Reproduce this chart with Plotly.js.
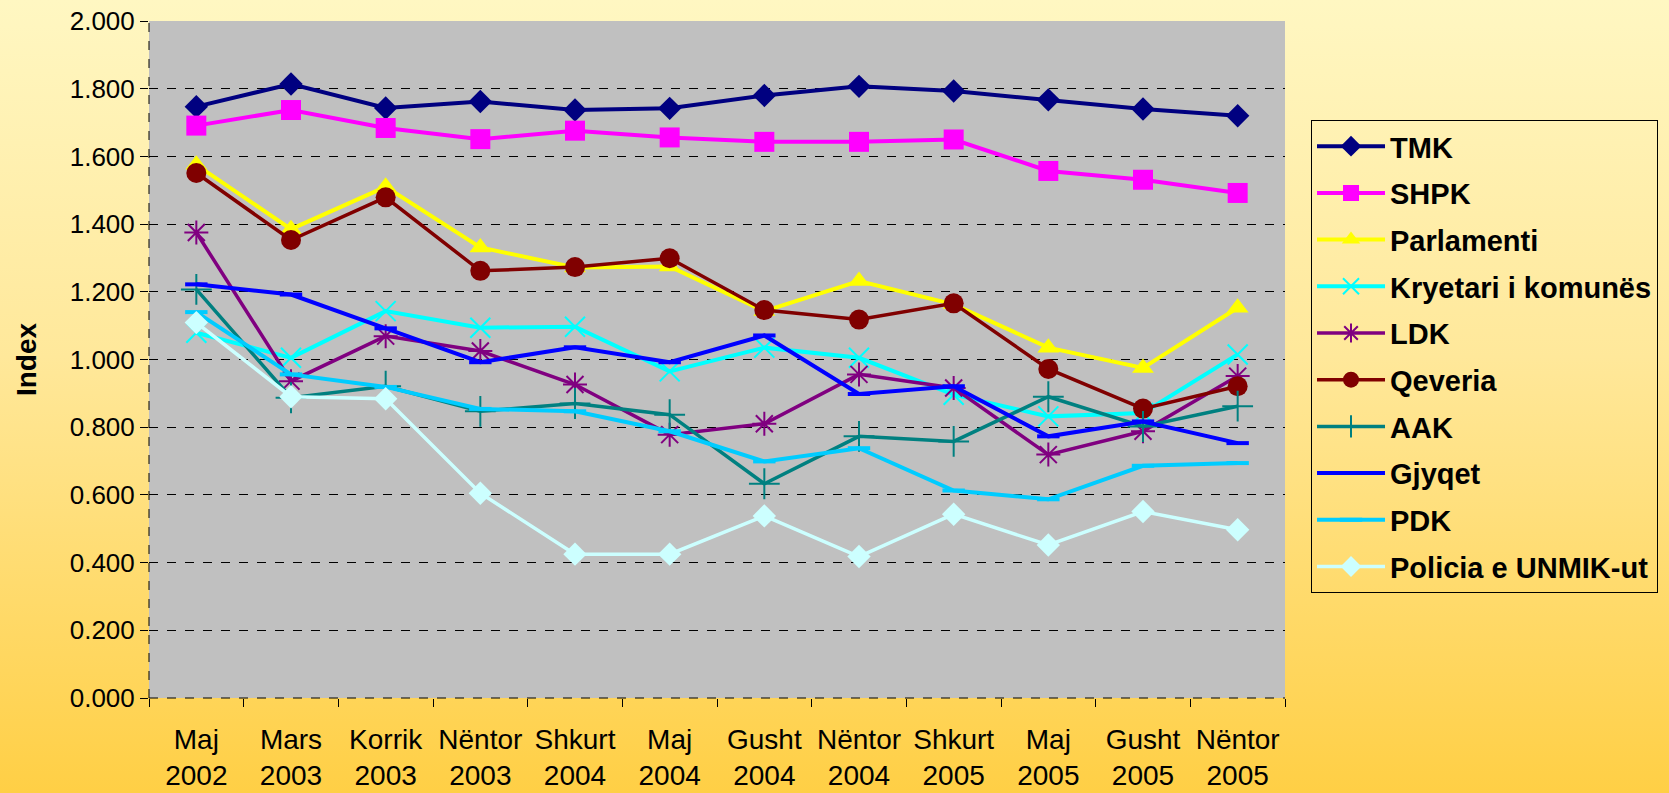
<!DOCTYPE html>
<html>
<head>
<meta charset="utf-8">
<script src="https://cdn.plot.ly/plotly-3.0.1.min.js"></script>
<style>
  html, body { margin: 0; padding: 0; }
  #chart { width: 1669px; height: 793px; background: linear-gradient(to bottom, #FFF7C2 0%, #FFE89A 45%, #FFCF45 100%); }
</style>
</head>
<body>
<div id="chart"></div>
<script>
const categories = ["Maj<br>2002", "Mars<br>2003", "Korrik<br>2003", "Nëntor<br>2003", "Shkurt<br>2004", "Maj<br>2004",
                    "Gusht<br>2004", "Nëntor<br>2004", "Shkurt<br>2005", "Maj<br>2005", "Gusht<br>2005", "Nëntor<br>2005"];

const TMK        = [1.747, 1.814, 1.743, 1.762, 1.737, 1.742, 1.780, 1.807, 1.793, 1.767, 1.740, 1.720];
const SHPK       = [1.691, 1.737, 1.684, 1.651, 1.676, 1.656, 1.643, 1.643, 1.650, 1.557, 1.531, 1.492];
const Parlamenti = [1.575, 1.385, 1.510, 1.331, 1.272, 1.275, 1.143, 1.232, 1.163, 1.035, 0.975, 1.153];
const Kryetari   = [1.079, 1.005, 1.143, 1.094, 1.097, 0.965, 1.035, 1.005, 0.896, 0.832, 0.842, 1.015];
const LDK        = [1.375, 0.936, 1.069, 1.025, 0.926, 0.778, 0.810, 0.956, 0.916, 0.719, 0.788, 0.951];
const Qeveria    = [1.551, 1.353, 1.479, 1.262, 1.273, 1.299, 1.146, 1.118, 1.166, 0.972, 0.855, 0.921];
const AAK        = [1.207, 0.887, 0.921, 0.847, 0.870, 0.837, 0.633, 0.773, 0.758, 0.890, 0.802, 0.862];
const Gjyqet     = [1.222, 1.192, 1.092, 0.992, 1.036, 0.992, 1.071, 0.898, 0.921, 0.773, 0.817, 0.753];
const PDK        = [1.140, 0.956, 0.919, 0.854, 0.847, 0.788, 0.699, 0.738, 0.613, 0.587, 0.686, 0.694];
const Policia    = [1.109, 0.890, 0.884, 0.605, 0.425, 0.425, 0.538, 0.418, 0.543, 0.452, 0.551, 0.497];

const seriesNames = ["TMK", "SHPK", "Parlamenti", "Kryetari i komunës", "LDK", "Qeveria", "AAK", "Gjyqet", "PDK", "Policia e UNMIK-ut"];
const seriesValues = [TMK, SHPK, Parlamenti, Kryetari, LDK, Qeveria, AAK, Gjyqet, PDK, Policia];
const seriesColors = ["#000080", "#FF00FF", "#FFFF00", "#00FFFF", "#800080", "#800000", "#008080", "#0000FF", "#00CCFF", "#CCFFFF"];
const seriesSymbols = ["diamond", "square", "triangle-up", "x-thin-open", "asterisk-open", "circle", "cross-thin-open", "line-ew-open", "line-ew-open", "diamond"];
const markerSizes = [18, 20, 19, 20, 20, 20, 22, 16, 16, 18];
const lineWidths = [4, 4, 4, 4, 3.5, 3.5, 3.5, 4, 4, 3.5];

const traces = seriesNames.map((name, i) => {
  const open = seriesSymbols[i].endsWith("open");
  return {
    type: "scatter",
    mode: "lines+markers",
    name: name,
    legendgroup: "g" + i,
    x: categories,
    y: seriesValues[i],
    line: { color: seriesColors[i], width: lineWidths[i] },
    marker: {
      symbol: seriesSymbols[i],
      size: markerSizes[i],
      color: seriesColors[i],
      line: { color: seriesColors[i], width: open ? (seriesSymbols[i] === "line-ew-open" ? 4 : 2) : 0 }
    },
    hoverinfo: "skip"
  };
});

const font = "Liberation Sans, Arial, sans-serif";

const layout = {
  width: 1669,
  height: 793,
  margin: { l: 149, r: 383, t: 21, b: 95 },
  paper_bgcolor: "rgba(0,0,0,0)",
  plot_bgcolor: "#C0C0C0",
  showlegend: true,
  font: { family: font, color: "#000000" },
  xaxis: {
    type: "category",
    range: [-0.5, categories.length - 0.5],
    autorange: false,
    showgrid: false,
    zeroline: false,
    showline: false,
    ticks: "outside",
    tickson: "boundaries",
    ticklen: 8,
    tickcolor: "#000000",
    tickfont: { family: font, size: 28, color: "#000000" },
    tickangle: 0,
    ticklabelstandoff: 22,
    automargin: false
  },
  yaxis: {
    range: [0, 2],
    dtick: 0.2,
    tickformat: ".3f",
    showgrid: true,
    gridcolor: "#000000",
    griddash: "dash",
    gridwidth: 1,
    zeroline: false,
    showline: false,
    ticks: "outside",
    ticklen: 8,
    tickcolor: "#000000",
    tickfont: { family: font, size: 26, color: "#000000" },
    title: { text: "<b>Index</b>", font: { family: font, size: 28, color: "#000000" }, standoff: 24 },
    automargin: false
  },
  shapes: [
    { type: "line", xref: "paper", yref: "paper", x0: 0, x1: 0, y0: 0, y1: 1,
      line: { color: "#000000", width: 1, dash: "dash" } },
    { type: "line", xref: "paper", yref: "paper", x0: 0, x1: 1, y0: 0, y1: 0,
      line: { color: "#000000", width: 1, dash: "dash" } }
  ],
  legend: {
    x: 1.022,
    y: 0.854,
    xanchor: "left",
    yanchor: "top",
    bgcolor: "rgba(0,0,0,0)",
    bordercolor: "#000000",
    borderwidth: 1,
    font: { family: font, size: 29, color: "#000000", weight: "bold" },
    traceorder: "grouped",
    tracegroupgap: 6,
    itemwidth: 68
  }
};

Plotly.newPlot("chart", traces, layout, { displayModeBar: false, staticPlot: true });
</script>
</body>
</html>
